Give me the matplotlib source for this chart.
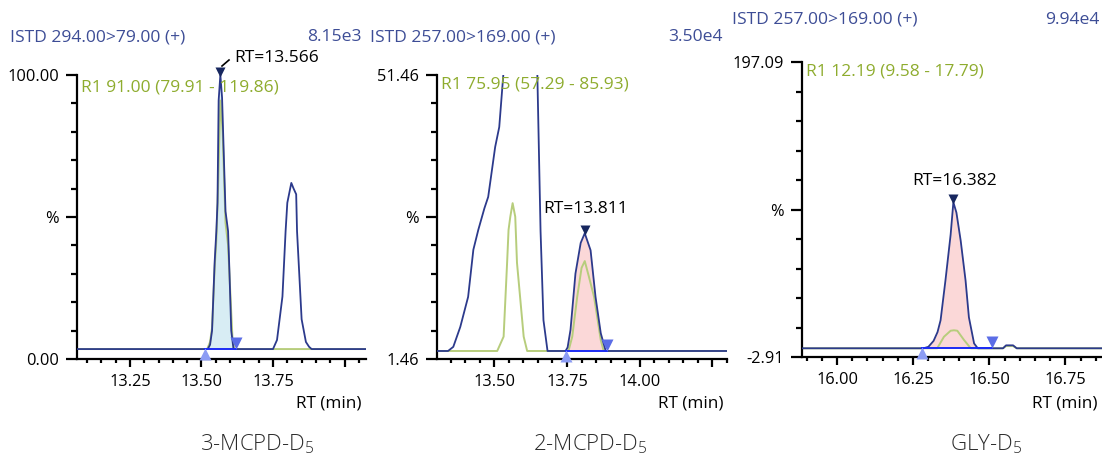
import matplotlib
matplotlib.use("Agg")
import matplotlib.pyplot as plt
import matplotlib.transforms as mtransforms
from matplotlib.ticker import MultipleLocator, FixedLocator, FixedFormatter

plt.rcParams['font.family'] = ['Open Sans', 'DejaVu Sans']
plt.rcParams['mathtext.default'] = 'regular'

# ---------------- data ----------------
titles = ["3-MCPD-D$_5$", "2-MCPD-D$_5$", "GLY-D$_5$"]
headers = ["ISTD 294.00>79.00 (+)", "ISTD 257.00>169.00 (+)", "ISTD 257.00>169.00 (+)"]
scales = ["8.15e3", "3.50e4", "9.94e4"]
ratio_texts = ["R1 91.00 (79.91 - 119.86)", "R1 75.95 (57.29 - 85.93)", "R1 12.19 (9.58 - 17.79)"]
rt_labels = ["RT=13.566", "RT=13.811", "RT=16.382"]
apex_rt = [13.566, 13.811, 16.382]
apex_val = [100.0, 23.6, 102.0]
y_limits = [(0.0, 100.0), (1.46, 51.46), (-2.91, 197.09)]
y_ticklabels = [["0.00", "%", "100.00"], ["1.46", "%", "51.46"], ["-2.91", "%", "197.09"]]
x_limits = [(13.065, 14.075), (13.303, 14.30), (15.885, 16.87)]
x_major = [[13.25, 13.50, 13.75, 14.00], [13.50, 13.75, 14.00, 14.25], [16.00, 16.25, 16.50, 16.75]]
x_major_labels = [["13.25", "13.50", "13.75", ""], ["13.50", "13.75", "14.00", ""], ["16.00", "16.25", "16.50", "16.75"]]
integ_start = [13.512, 13.748, 16.28]
integ_end = [13.622, 13.888, 16.508]
integ_base = [3.5, 2.87, 3.0]
fill_colors = ['#d8edf4', '#fbd8d8']

# panel 1 traces
p1_blue_rt = [13.065, 13.522, 13.530, 13.537, 13.546, 13.552, 13.556, 13.560, 13.566, 13.572, 13.584,
              13.593, 13.598, 13.604, 13.612, 13.750, 13.764, 13.783, 13.794, 13.800, 13.814, 13.822,
              13.831, 13.834, 13.850, 13.865, 13.876, 13.885, 14.075]
p1_blue_val = [3.5, 3.5, 5.0, 10.0, 34.0, 45.0, 55.0, 91.0, 100.0, 92.0, 52.0,
               45.0, 30.0, 10.0, 3.5, 3.5, 6.7, 22.0, 45.0, 55.0, 62.0, 60.0,
               58.0, 45.0, 14.0, 6.0, 4.3, 3.5, 3.5]
p1_green_rt = [13.065, 13.520, 13.530, 13.537, 13.546, 13.552, 13.558, 13.566, 13.574, 13.584,
               13.593, 13.600, 13.608, 13.615, 14.075]
p1_green_val = [3.5, 3.5, 6.0, 11.0, 32.0, 42.0, 60.0, 91.0, 80.0, 48.0,
                40.0, 25.0, 8.0, 3.5, 3.5]

# panel 2 traces
p2_blue_rt = [13.303, 13.341, 13.359, 13.383, 13.410, 13.428, 13.445, 13.466, 13.479, 13.503, 13.517,
              13.531, 13.570, 13.610, 13.648, 13.659, 13.669, 13.683, 13.745, 13.752, 13.762, 13.779,
              13.797, 13.811, 13.831, 13.848, 13.866, 13.883, 14.300]
p2_blue_val = [2.87, 2.87, 3.6, 7.1, 12.4, 20.7, 24.2, 28.0, 30.0, 38.8, 42.3,
               51.5, 100.0, 100.0, 51.5, 24.0, 8.3, 2.87, 2.87, 3.5, 6.6, 16.5,
               21.9, 23.6, 20.6, 12.4, 6.0, 2.87, 2.87]
p2_green_rt = [13.303, 13.510, 13.532, 13.544, 13.549, 13.555, 13.563, 13.572, 13.578, 13.601, 13.613,
               13.755, 13.768, 13.785, 13.800, 13.811, 13.825, 13.843, 13.866, 13.876, 14.300]
p2_green_val = [2.87, 2.87, 5.4, 18.4, 24.2, 26.5, 28.9, 26.5, 18.4, 5.4, 2.87,
                2.87, 5.4, 12.4, 17.5, 18.7, 16.0, 12.4, 4.8, 2.87, 2.87]

# panel 3 traces
p3_blue_rt = [15.885, 16.284, 16.300, 16.317, 16.330, 16.340, 16.356, 16.373, 16.382, 16.392, 16.406,
              16.422, 16.433, 16.450, 16.462, 16.545, 16.555, 16.578, 16.590, 16.870]
p3_blue_val = [3.0, 3.0, 4.0, 8.0, 14.0, 22.0, 49.0, 80.0, 102.0, 95.0, 76.0,
               49.0, 24.0, 6.3, 3.0, 3.0, 5.0, 5.0, 3.0, 3.0]
p3_green_rt = [15.885, 16.329, 16.351, 16.373, 16.384, 16.395, 16.417, 16.439, 16.545, 16.555, 16.578,
               16.590, 16.870]
p3_green_val = [3.0, 3.0, 10.8, 14.9, 15.2, 14.9, 8.6, 3.0, 3.0, 4.5, 4.5, 3.0, 3.0]

blue_rts = [p1_blue_rt, p2_blue_rt, p3_blue_rt]
blue_vals = [p1_blue_val, p2_blue_val, p3_blue_val]
green_rts = [p1_green_rt, p2_green_rt, p3_green_rt]
green_vals = [p1_green_val, p2_green_val, p3_green_val]
fill_index = [0, 1, 1]

# ---------------- style ----------------
W, H = 1102, 459
NAVY = '#2c3a8c'
HEAD = '#3d4d96'
GREEN_LINE = '#b7cd7c'
GREEN_TXT = '#8eac2e'
INT_LINE = '#1c2cf5'
TRI_UP = '#8c9cf4'
TRI_DN = '#5b6de6'
APEX = '#17275f'

fig = plt.figure(figsize=(W / 100, H / 100), dpi=100)

def fx(px):
    return px / W

def fy(py):
    return 1 - py / H

# axes pixel boxes (left, top, right, bottom)
boxes = [(77, 75, 366, 359), (437, 75, 727, 359), (802, 62, 1102, 357)]
header_pos = [(10, 37, 362), (370, 37, 723), (732, 20, 1099)]
ratio_pos = [(81, 88), (441, 85), (806, 72)]
rt_pos = [(234, 58), (543, 209), (912, 181)]
xlabel_pos = [(362, 404), (723, 404), (1098, 404)]
title_pos = [(257, 444), (590, 444), (986, 444)]

TICK_FS = 11.8
for i in range(3):
    l, t, r, b = boxes[i]
    ax = fig.add_axes([fx(l), fy(b), fx(r - l), (b - t) / H])
    ax.set_xlim(*x_limits[i])
    ax.set_ylim(*y_limits[i])
    for s in ['top', 'right']:
        ax.spines[s].set_visible(False)
    for s in ['left', 'bottom']:
        ax.spines[s].set_linewidth(1.6)
        ax.spines[s].set_color('black')
    ax.patch.set_alpha(0)

    # traces
    ax.plot(green_rts[i], green_vals[i], color=GREEN_LINE, lw=1.4, zorder=2)
    ax.plot(blue_rts[i], blue_vals[i], color=NAVY, lw=1.3, zorder=3)

    # fill integrated region
    xs, ys = [], []
    for xv, yv in zip(blue_rts[i], blue_vals[i]):
        if integ_start[i] <= xv <= integ_end[i]:
            xs.append(xv)
            ys.append(yv)
    xs = [integ_start[i]] + xs + [integ_end[i]]
    ys = [integ_base[i]] + ys + [integ_base[i]]
    ax.fill_between(xs, ys, integ_base[i], color=fill_colors[fill_index[i]], lw=0, zorder=1)
    ax.plot([integ_start[i], integ_end[i]], [integ_base[i], integ_base[i]], color=INT_LINE, lw=1.4, zorder=4)

    # integration markers
    tr_up = mtransforms.offset_copy(ax.transData, fig=fig, x=0, y=-5, units='dots')
    tr_dn = mtransforms.offset_copy(ax.transData, fig=fig, x=0, y=6, units='dots')
    ax.plot([integ_start[i]], [integ_base[i]], marker='^', color=TRI_UP, ms=8, mec='none',
            transform=tr_up, clip_on=False, zorder=5)
    ax.plot([integ_end[i]], [integ_base[i]], marker='v', color=TRI_DN, ms=8, mec='none',
            transform=tr_dn, clip_on=False, zorder=5)
    tr_apex = mtransforms.offset_copy(ax.transData, fig=fig, x=0, y=3, units='dots')
    ax.plot([apex_rt[i]], [apex_val[i]], marker='v', color=APEX, ms=7, mec='none',
            transform=tr_apex, clip_on=False, zorder=6)

    # ticks
    y0, y1 = y_limits[i]
    ym = (y0 + y1) / 2
    ax.yaxis.set_major_locator(FixedLocator([y0, ym, y1]))
    ax.yaxis.set_major_formatter(FixedFormatter(y_ticklabels[i]))
    ax.yaxis.set_minor_locator(FixedLocator([y0 + k * (y1 - y0) / 10 for k in range(11)]))
    ax.xaxis.set_major_locator(FixedLocator(x_major[i]))
    ax.xaxis.set_major_formatter(FixedFormatter(x_major_labels[i]))
    ax.xaxis.set_minor_locator(MultipleLocator(0.05))
    ax.tick_params(axis='both', which='major', direction='out', length=6, width=1.6,
                   labelsize=TICK_FS, pad=5, colors='black')
    ax.tick_params(axis='y', which='minor', direction='out', length=4, width=1.6)
    ax.tick_params(axis='x', which='minor', direction='out', length=3, width=1.6)
    ax.tick_params(axis='y', which='major', length=8)

    # texts
    hx, hy, hr = header_pos[i]
    fig.text(fx(hx), fy(hy), headers[i], color=HEAD, fontsize=12.6, ha='left', va='center')
    fig.text(fx(hr), fy(hy), scales[i], color=HEAD, fontsize=12.6, ha='right', va='center')
    rx, ry = ratio_pos[i]
    fig.text(fx(rx), fy(ry), ratio_texts[i], color=GREEN_TXT, fontsize=12.5, ha='left', va='center', zorder=10)
    tx, ty = rt_pos[i]
    fig.text(fx(tx), fy(ty), rt_labels[i], color='black', fontsize=12.5, ha='left', va='center')
    lx, ly = xlabel_pos[i]
    fig.text(fx(lx), fy(ly), "RT (min)", color='black', fontsize=12.3, ha='right', va='center')
    cx, cy = title_pos[i]
    fig.text(fx(cx), fy(cy), titles[i], color='#2a2a2a', fontsize=16, ha='center', va='center',
             fontweight='light')

# leader line for first RT label
fig.add_artist(plt.Line2D([fx(222), fx(229)], [fy(66), fy(60)], color='black', lw=1.2))

fig.savefig("out.png", dpi=100)
